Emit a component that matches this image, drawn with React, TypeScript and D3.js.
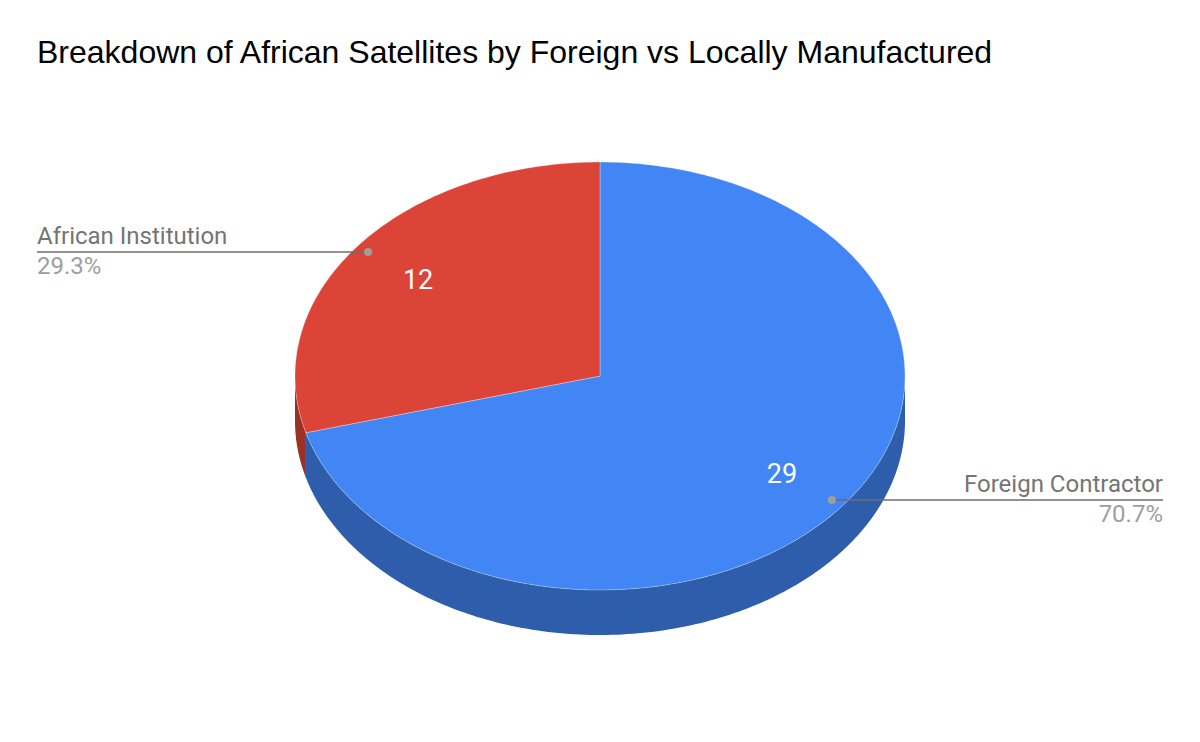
import * as d3 from 'd3';

const categories = ['Foreign Contractor', 'African Institution'];
const counts = [29, 12];
const topColors = ['#4285f4', '#db4437'];
const sideColors = ['#2d5dab', '#9b3026'];

const W = 1200;
const H = 742;
const cx = 600;
const cy = 376;
const rx = 305;
const ry = 214;
const depth = 45;

const FONT = 'Roboto, Arial, sans-serif';
const TITLE_FONT = '"Liberation Sans", Arial, sans-serif';

// point on the tilted ellipse, angle clockwise from 12 o'clock
const pt = (a: number, f = 1, dy = 0): [number, number] => [
    cx + f * rx * Math.sin(a),
    cy - f * ry * Math.cos(a) + dy,
];

function topPath(a0: number, a1: number) {
    const steps = Math.max(2, Math.ceil(((a1 - a0) * 180) / Math.PI));
    const pts = d3.range(steps + 1).map((i) => pt(a0 + ((a1 - a0) * i) / steps));
    return `M${cx},${cy}L` + pts.map((p) => p.join(',')).join('L') + 'Z';
}

function sidePath(a0: number, a1: number) {
    // only the front half (90°..270°) of the rim is visible
    const s = Math.max(a0, Math.PI / 2);
    const e = Math.min(a1, (3 * Math.PI) / 2);
    if (e <= s) return null;
    const steps = Math.max(2, Math.ceil(((e - s) * 180) / Math.PI));
    const ang = d3.range(steps + 1).map((i) => s + ((e - s) * i) / steps);
    const up = ang.map((a) => pt(a));
    const down = ang.slice().reverse().map((a) => pt(a, 1, depth));
    return 'M' + up.concat(down).map((p) => p.join(',')).join('L') + 'Z';
}

export default function App() {
    const total = d3.sum(counts);
    const arcs = d3
        .pie<number>()
        .sort(null)
        .startAngle(0)
        .endAngle(2 * Math.PI)(counts);

    const fmt = d3.format('.1%');

    return (
        <svg width={W} height={H} style={{ display: 'block', margin: -8 }}>
            <rect width={W} height={H} fill="#fff" />
            <text x={37} y={63} fontFamily={TITLE_FONT} fontSize={32} fill="#000">
                Breakdown of African Satellites by Foreign vs Locally Manufactured
            </text>

            {/* rim sides */}
            {arcs.map((d, i) => {
                const p = sidePath(d.startAngle, d.endAngle);
                return p ? <path key={'s' + i} d={p} fill={sideColors[i]} /> : null;
            })}

            {/* top faces */}
            {arcs.map((d, i) => (
                <path
                    key={'t' + i}
                    d={topPath(d.startAngle, d.endAngle)}
                    fill={topColors[i]}
                    stroke="#fff"
                    strokeWidth={0.5}
                    strokeOpacity={0.6}
                />
            ))}

            {/* values inside slices */}
            {arcs.map((d, i) => {
                const [x, y] = pt((d.startAngle + d.endAngle) / 2, 0.75);
                return (
                    <text
                        key={'v' + i}
                        x={x}
                        y={y + 10}
                        textAnchor="middle"
                        fontFamily={FONT}
                        fontSize={27}
                        fill="#fff"
                    >
                        {d.data}
                    </text>
                );
            })}

            {/* callouts */}
            {arcs.map((d, i) => {
                const [px, py] = pt((d.startAngle + d.endAngle) / 2, 0.956);
                const left = px < cx;
                const x0 = left ? 37 : 1163;
                const anchor = left ? 'start' : 'end';
                return (
                    <g key={'c' + i}>
                        <line x1={px} y1={py} x2={x0} y2={py} stroke="#6e6e6e" strokeWidth={1.6} />
                        <circle cx={px} cy={py} r={4} fill="#9e9e9e" />
                        <text x={x0} y={py - 8} textAnchor={anchor} fontFamily={FONT} fontSize={24} fill="#757575">
                            {categories[i]}
                        </text>
                        <text x={x0} y={py + 22} textAnchor={anchor} fontFamily={FONT} fontSize={24} fill="#9e9e9e">
                            {fmt(counts[i] / total)}
                        </text>
                    </g>
                );
            })}
        </svg>
    );
}
